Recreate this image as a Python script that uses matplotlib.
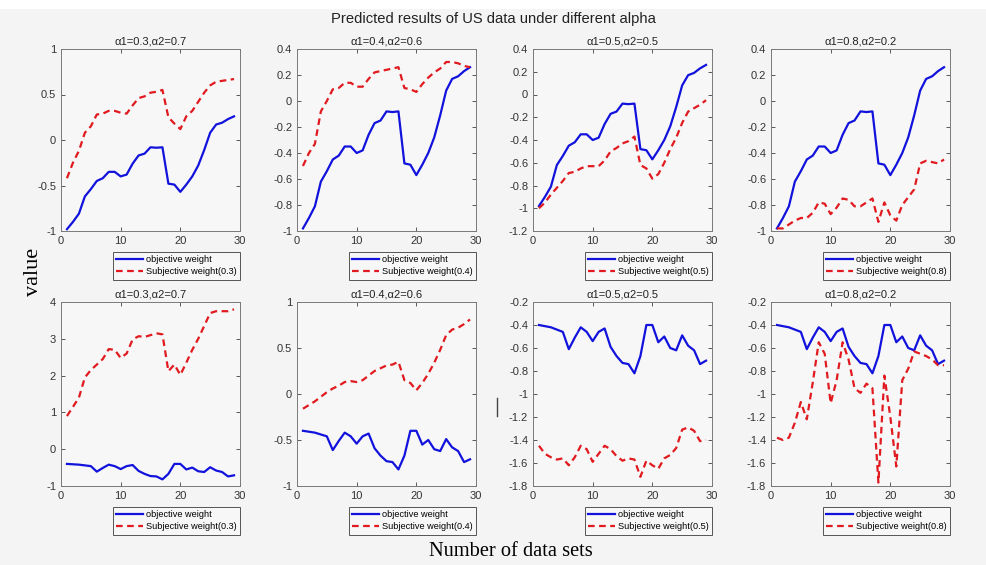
import matplotlib.pyplot as plt
from matplotlib.lines import Line2D
from matplotlib.patches import Rectangle
from matplotlib.ticker import FuncFormatter

plt.rcParams["font.family"] = ["Liberation Sans", "DejaVu Sans"]
plt.rcParams["axes.unicode_minus"] = False

x = list(range(1, 30))

# objective weight, top row (same in all four panels)
obj_top = [-0.98, -0.90, -0.81, -0.62, -0.54, -0.45, -0.42, -0.35, -0.35, -0.40,
           -0.38, -0.26, -0.17, -0.15, -0.08, -0.085, -0.08, -0.48, -0.49, -0.57,
           -0.49, -0.40, -0.28, -0.11, 0.08, 0.17, 0.19, 0.23, 0.26]
# objective weight, bottom row
obj_bot = [-0.40, -0.41, -0.42, -0.44, -0.46, -0.61, -0.51, -0.42, -0.46, -0.54,
           -0.46, -0.43, -0.59, -0.67, -0.73, -0.74, -0.82, -0.67, -0.40, -0.40,
           -0.55, -0.50, -0.60, -0.62, -0.49, -0.58, -0.62, -0.74, -0.71]

# subjective weights, top row
sub_top_03 = [-0.42, -0.25, -0.12, 0.08, 0.15, 0.28, 0.29, 0.32, 0.32, 0.30,
              0.29, 0.38, 0.46, 0.48, 0.52, 0.53, 0.55, 0.25, 0.18, 0.12,
              0.26, 0.32, 0.42, 0.52, 0.60, 0.64, 0.65, 0.66, 0.67]
sub_top_04 = [-0.50, -0.40, -0.33, -0.08, 0.00, 0.09, 0.10, 0.14, 0.14, 0.11,
              0.11, 0.17, 0.22, 0.23, 0.24, 0.25, 0.26, 0.10, 0.09, 0.07,
              0.13, 0.18, 0.22, 0.25, 0.30, 0.30, 0.29, 0.27, 0.26]
sub_top_05 = [-1.00, -0.95, -0.88, -0.82, -0.76, -0.69, -0.68, -0.65, -0.63, -0.63,
              -0.63, -0.58, -0.50, -0.47, -0.43, -0.41, -0.37, -0.62, -0.65, -0.74,
              -0.70, -0.60, -0.48, -0.38, -0.25, -0.15, -0.12, -0.09, -0.05]
sub_top_08 = [-0.98, -0.98, -0.95, -0.92, -0.90, -0.90, -0.86, -0.78, -0.79, -0.87,
              -0.82, -0.75, -0.76, -0.81, -0.81, -0.78, -0.75, -0.93, -0.78, -0.88,
              -0.92, -0.80, -0.74, -0.68, -0.48, -0.46, -0.47, -0.48, -0.45]

# subjective weights, bottom row
sub_bot_03 = [0.90, 1.15, 1.40, 1.95, 2.15, 2.30, 2.45, 2.72, 2.70, 2.48,
              2.60, 2.98, 3.07, 3.05, 3.10, 3.15, 3.12, 2.12, 2.30, 2.02,
              2.35, 2.70, 3.00, 3.35, 3.70, 3.75, 3.75, 3.75, 3.80]
sub_bot_04 = [-0.16, -0.12, -0.08, -0.03, 0.02, 0.06, 0.09, 0.13, 0.14, 0.13,
              0.15, 0.20, 0.25, 0.28, 0.31, 0.32, 0.35, 0.15, 0.12, 0.04,
              0.12, 0.22, 0.34, 0.48, 0.64, 0.70, 0.72, 0.76, 0.81]
sub_bot_05 = [-1.45, -1.52, -1.55, -1.57, -1.56, -1.62, -1.55, -1.45, -1.48, -1.59,
              -1.52, -1.45, -1.48, -1.54, -1.58, -1.56, -1.57, -1.72, -1.58, -1.62,
              -1.65, -1.56, -1.53, -1.47, -1.31, -1.29, -1.32, -1.41, -1.40]
sub_bot_08 = [-1.38, -1.40, -1.38, -1.25, -1.07, -1.22, -0.90, -0.55, -0.65, -1.08,
              -0.88, -0.55, -0.70, -0.95, -0.99, -0.91, -0.95, -1.77, -0.84, -1.20,
              -1.63, -0.88, -0.78, -0.63, -0.65, -0.67, -0.70, -0.75, -0.75]

titles = ["α1=0.3,α2=0.7", "α1=0.4,α2=0.6", "α1=0.5,α2=0.5", "α1=0.8,α2=0.2"]
labels = ["Subjective weight(0.3)", "Subjective weight(0.4)",
          "Subjective weight(0.5)", "Subjective weight(0.8)"]

panels = [
    (obj_top, sub_top_03, (-1, 1), [-1, -0.5, 0, 0.5, 1]),
    (obj_top, sub_top_04, (-1, 0.4), [-1, -0.8, -0.6, -0.4, -0.2, 0, 0.2, 0.4]),
    (obj_top, sub_top_05, (-1.2, 0.4), [-1.2, -1, -0.8, -0.6, -0.4, -0.2, 0, 0.2, 0.4]),
    (obj_top, sub_top_08, (-1, 0.4), [-1, -0.8, -0.6, -0.4, -0.2, 0, 0.2, 0.4]),
    (obj_bot, sub_bot_03, (-1, 4), [-1, 0, 1, 2, 3, 4]),
    (obj_bot, sub_bot_04, (-1, 1), [-1, -0.5, 0, 0.5, 1]),
    (obj_bot, sub_bot_05, (-1.8, -0.2), [-1.8, -1.6, -1.4, -1.2, -1, -0.8, -0.6, -0.4, -0.2]),
    (obj_bot, sub_bot_08, (-1.8, -0.2), [-1.8, -1.6, -1.4, -1.2, -1, -0.8, -0.6, -0.4, -0.2]),
]

W, H = 986, 565
bg = "#f4f4f4"
fig = plt.figure(figsize=(W / 100, H / 100), dpi=100, facecolor=bg)
# white strip along the top edge of the screenshot
fig.add_artist(Rectangle((0, 1 - 9 / H), 1, 9 / H, transform=fig.transFigure,
                         facecolor="white", edgecolor="none"))

lefts = [61, 297, 533, 771]
rows = [(49, 231), (302, 486)]

for i, (obj, sub, ylim, yt) in enumerate(panels):
    r, c = divmod(i, 4)
    top, bot = rows[r]
    ax = fig.add_axes([lefts[c] / W, 1 - bot / H, 179 / W, (bot - top) / H])
    ax.set_facecolor("#f7f7f7")
    ax.plot(x, obj, color="#1212dd", lw=1.6, label="objective weight")
    ax.plot(x, sub, color="#e01a1f", lw=1.6, ls=(0, (3, 2)), label=labels[c])
    ax.set_xlim(0, 30)
    ax.set_ylim(*ylim)
    ax.set_xticks([0, 10, 20, 30])
    ax.set_yticks(yt)
    ax.yaxis.set_major_formatter(FuncFormatter(lambda v, p: f"{v:g}"))
    ax.tick_params(direction="in", top=True, right=True, length=3, width=0.6,
                   labelsize=8, colors="#404040", labelcolor="#333333")
    for s in ax.spines.values():
        s.set_color("#7a7a7a")
        s.set_linewidth(0.7)
    ax.set_title(titles[c], fontsize=8, color="#222222", pad=3)
    leg = ax.legend(loc="upper right", bbox_to_anchor=(1.0, -21 / (bot - top)),
                    borderaxespad=0, fontsize=6.6, handlelength=3.0,
                    handletextpad=0.3, borderpad=0.35, labelspacing=0.35,
                    fancybox=False, framealpha=1, facecolor="#f7f7f7",
                    edgecolor="#555555")
    leg.get_frame().set_linewidth(0.7)

fig.suptitle("Predicted results of US data under different alpha", x=0.5, y=1 - 19 / H,
             va="center", fontsize=10.6, color="#222222")
fig.text(33 / W, 1 - 272 / H, "value", rotation=90, ha="center", va="center",
         fontsize=16, family=["Liberation Serif", "DejaVu Serif"])
fig.text(511 / W, 1 - 552 / H, "Number of data sets", ha="center", va="center",
         fontsize=14.7, family=["Liberation Serif", "DejaVu Serif"])
fig.add_artist(Line2D([497 / W, 497 / W], [1 - 398 / H, 1 - 416 / H], color="#444444", lw=1))

fig.savefig("out.png", dpi=100, facecolor=bg)
